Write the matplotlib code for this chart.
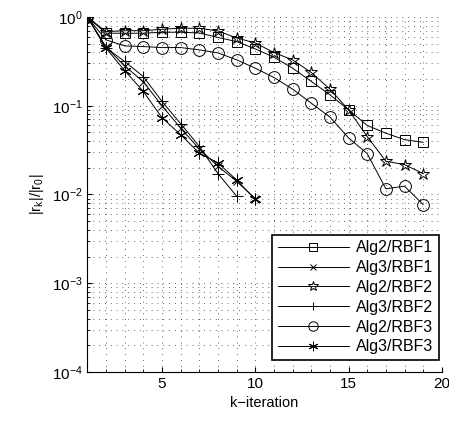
import numpy as np
import matplotlib.pyplot as plt
from matplotlib.ticker import LogLocator, MultipleLocator, NullFormatter

plt.rcParams['font.family'] = ['Liberation Sans', 'DejaVu Sans']
plt.rcParams['mathtext.fontset'] = 'custom'
plt.rcParams['mathtext.rm'] = 'Liberation Sans'
plt.rcParams['mathtext.it'] = 'Liberation Sans'

# residual history
k_alg2 = np.arange(1, 20)
alg2_rbf1 = [1.0, 0.656, 0.656, 0.656, 0.673, 0.673, 0.66, 0.588, 0.528, 0.437,
             0.352, 0.265, 0.188, 0.133, 0.090, 0.060, 0.049, 0.0415, 0.0387]
alg2_rbf2 = [1.0, 0.684, 0.70, 0.70, 0.727, 0.746, 0.746, 0.696, 0.58, 0.51,
             0.397, 0.329, 0.237, 0.154, 0.090, 0.045, 0.0237, 0.0217, 0.0172]
alg2_rbf3 = [1.0, 0.552, 0.472, 0.464, 0.452, 0.452, 0.426, 0.394, 0.329, 0.265,
             0.208, 0.154, 0.107, 0.0746, 0.0434, 0.0289, 0.0116, 0.0124, 0.0077]

k_alg3_rbf1 = np.arange(1, 11)
alg3_rbf1 = [1.0, 0.46, 0.28, 0.187, 0.10, 0.056, 0.0326, 0.0208, 0.0141, 0.0090]
k_alg3_rbf2 = np.arange(1, 10)
alg3_rbf2 = [1.0, 0.45, 0.315, 0.213, 0.112, 0.0628, 0.0349, 0.0172, 0.0096]
k_alg3_rbf3 = np.arange(1, 11)
alg3_rbf3 = [1.0, 0.445, 0.249, 0.145, 0.0733, 0.0472, 0.0293, 0.0227, 0.0146, 0.0088]

series = [
    (k_alg2, alg2_rbf1, 's', 6.5, 'Alg2/RBF1'),
    (k_alg3_rbf1, alg3_rbf1, 'x', 5.5, 'Alg3/RBF1'),
    (k_alg2, alg2_rbf2, '*', 9, 'Alg2/RBF2'),
    (k_alg3_rbf2, alg3_rbf2, '+', 8, 'Alg3/RBF2'),
    (k_alg2, alg2_rbf3, 'o', 8.5, 'Alg2/RBF3'),
    (k_alg3_rbf3, alg3_rbf3, (6, 2, 0), 8.5, 'Alg3/RBF3'),
]

fig = plt.figure(figsize=(4.49, 4.24), dpi=100)
ax = fig.add_axes([0.1945, 0.1226, 0.7895, 0.8374])

for k, r, m, ms, lab in series:
    ax.plot(k, r, color='black', lw=0.7, marker=m, ms=ms, mfc='none',
            mec='black', mew=0.7, label=lab)

ax.set_yscale('log')
ax.set_xlim(1, 20)
ax.set_ylim(1e-4, 1)
ax.xaxis.set_major_locator(MultipleLocator(5))
ax.xaxis.set_minor_locator(MultipleLocator(1))
ax.yaxis.set_major_locator(LogLocator(base=10, numticks=10))
ax.yaxis.set_minor_locator(LogLocator(base=10, subs=np.arange(2, 10), numticks=10))
ax.yaxis.set_minor_formatter(NullFormatter())

ax.grid(True, which='both', color='#333333', ls=(0, (1, 6)), lw=0.6)
ax.tick_params(which='both', direction='in', labelsize=11)
ax.tick_params(which='minor', length=2)
ax.spines['top'].set_visible(False)
ax.spines['right'].set_visible(False)

ax.set_xlabel('k\u2212iteration', fontsize=10.5)
ax.set_ylabel('|r$_k$|/|r$_0$|', fontsize=10.5)

leg = ax.legend(loc='lower right', bbox_to_anchor=(1.0, 0.025), numpoints=1,
                handlelength=4.5, handletextpad=0.4, fontsize=11.5, markerscale=0.8,
                fancybox=False, framealpha=1, edgecolor='black',
                borderpad=0.35, labelspacing=0.3, borderaxespad=0.2)
leg.get_frame().set_linewidth(1.2)

fig.savefig('out.png', dpi=100)
